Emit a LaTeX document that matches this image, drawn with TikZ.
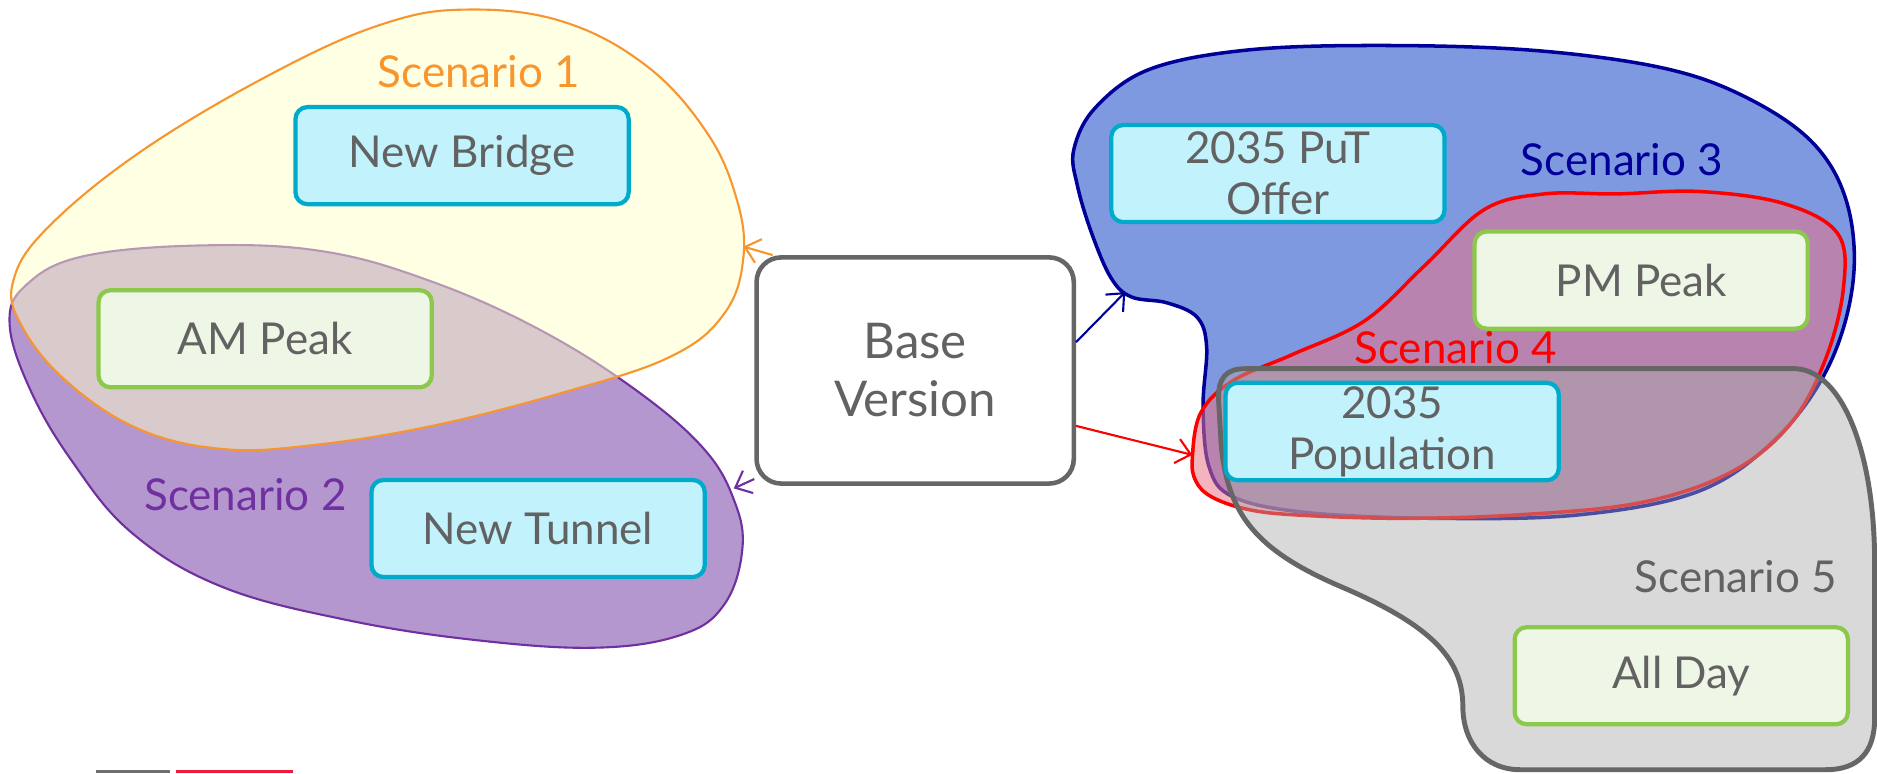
\documentclass[tikz,border=0pt]{standalone}
\usepackage{fontspec}
\setmainfont{Lato}
\usetikzlibrary{arrows.meta}
\definecolor{txt}{HTML}{626262}
\definecolor{cyanfill}{HTML}{C2F3FD}
\definecolor{cyanline}{HTML}{00AACB}
\definecolor{greenfill}{HTML}{EEF6E6}
\definecolor{greenline}{HTML}{8CC84B}
\definecolor{s1line}{HTML}{F7962E}
\definecolor{s1fill}{HTML}{FFFFC8}
\definecolor{s2line}{HTML}{7030A0}
\definecolor{s2fill}{HTML}{B497CF}
\definecolor{s3line}{HTML}{000099}
\definecolor{s3fill}{HTML}{7F99E0}
\definecolor{s4line}{HTML}{FF0000}
\definecolor{s4fill}{HTML}{E97487}
\definecolor{s5line}{HTML}{666666}
\definecolor{s5fill}{HTML}{AAAAAA}
\definecolor{bargray}{HTML}{6D6E71}
\definecolor{barred}{HTML}{ED1C3A}
\begin{document}
\begin{tikzpicture}[x=0.01197cm,y=-0.01197cm,
  font=\fontsize{12.5}{14.5}\selectfont,
  box/.style={rounded corners=3.4pt, line width=1.2pt, minimum width=3.33cm, minimum height=0.97cm, align=center, text=txt, inner sep=1pt},
  cbox/.style={box, draw=cyanline, fill=cyanfill},
  gbox/.style={box, draw=greenline, fill=greenfill},
  basebox/.style={rounded corners=7pt, line width=1.3pt, draw=s5line, fill=white, minimum width=3.17cm, minimum height=2.26cm, align=center, text=txt, font=\fontsize{14}{16.5}\selectfont},
  sclabel/.style={inner sep=0pt},
  arr/.style={line width=0.6pt, -{Straight Barb[length=4pt,width=7pt]}}
]
\useasboundingbox (0,0) rectangle (1568,646);

% Scenario 2 (purple)
\draw[s2line, line width=0.6pt, fill=s2fill] plot[smooth cycle, tension=0.65] coordinates {
 (8,270) (22,238) (70,214) (170,205) (270,210) (360,235) (450,275) (530,325) (588,375) (614,420) (620,460) (605,505) (570,530) (500,541) (400,535) (290,518) (185,490) (110,445) (60,385) (25,325)};
% Scenario 1 (yellow)
\draw[s1line, line width=0.6pt, fill=s1fill, fill opacity=0.5] plot[smooth cycle, tension=0.65] coordinates {
 (11,235) (40,190) (120,125) (230,60) (320,20) (390,8) (470,18) (540,55) (590,110) (615,165) (621,215) (605,262) (560,298) (470,328) (360,356) (260,372) (185,375) (115,358) (55,318) (18,272)};

% Scenario 3 (blue)
\draw[s3line, line width=1pt, fill=s3fill] plot[smooth cycle, tension=0.6] coordinates {
 (897,125) (915,90) (960,58) (1040,42) (1150,38) (1280,42) (1390,57) (1460,82) (1515,120) (1543,170) (1548,235) (1528,305) (1485,365) (1420,410) (1320,430) (1200,433) (1090,428) (1030,415) (1010,390) (1005,340) (1008,290) (1000,265) (975,253) (945,248) (928,232) (912,195) (900,155)};
% Scenario 4 (red)
\draw[s4line, line width=1pt, fill=s4fill, fill opacity=0.54] plot[smooth cycle, tension=0.6] coordinates {
 (996,383) (1003,345) (1030,318) (1080,296) (1140,268) (1190,222) (1240,175) (1290,162) (1350,162) (1420,160) (1490,170) (1535,195) (1540,240) (1525,300) (1495,355) (1445,395) (1370,420) (1270,430) (1170,433) (1080,430) (1040,425) (1012,415) (999,402)};
% Scenario 5 (gray)
\draw[s5line, line width=1.4pt, fill=s5fill, fill opacity=0.45]
 (1040,308) -- (1500,308) .. controls (1540,310) and (1566,380) .. (1566,470) -- (1566,600)
 .. controls (1566,628) and (1553,643) .. (1525,643) -- (1270,643)
 .. controls (1240,643) and (1222,620) .. (1222,590)
 .. controls (1222,550) and (1195,522) .. (1120,490)
 .. controls (1050,460) and (1025,430) .. (1020,370) -- (1018,335)
 .. controls (1017,315) and (1025,308) .. (1040,308) -- cycle;

% labels
\node[sclabel, text=s1line] (l1) at (400,60) {Scenario 1};
\node[sclabel, text=s2line] (l2) at (205,413) {Scenario 2};
\node[sclabel, text=s3line] (l3) at (1355,133) {Scenario 3};
\node[sclabel, text=s4line] (l4) at (1216,290) {Scenario 4};
\node[sclabel, text=txt] (l5) at (1450,482) {Scenario 5};

% nodes
\node[basebox] (base) at (764.5,309.5) {Base\\Version};
\node[cbox] (bridge) at (386,130) {New Bridge};
\node[gbox] (am) at (221.5,283) {AM Peak};
\node[cbox] (tunnel) at (449.5,441.5) {New Tunnel};
\node[cbox] (put) at (1067.5,145) {2035 PuT\\Offer};
\node[gbox] (pm) at (1371,234) {PM Peak};
\node[cbox] (pop) at (1163,360.5) {2035\\Population};
\node[gbox] (allday) at (1404.5,564.5) {All Day};

% arrow targets
\coordinate (e1) at (621,206);
\coordinate (e2) at (613,408);
\coordinate (e3) at (940,244);
\coordinate (e4) at (996,380);
\draw[arr, s1line] (base.141) -- (e1);
\draw[arr, s2line] (base.214.8) -- (e2);
\draw[arr, s3line] (base.10.5) -- (e3);
\draw[arr, s4line] (base.-19.6) -- (e4);

% bottom bars
\fill[bargray] (80,643.5) rectangle (142,646);
\fill[barred] (147,643.5) rectangle (245,646);
\end{tikzpicture}
\end{document}
